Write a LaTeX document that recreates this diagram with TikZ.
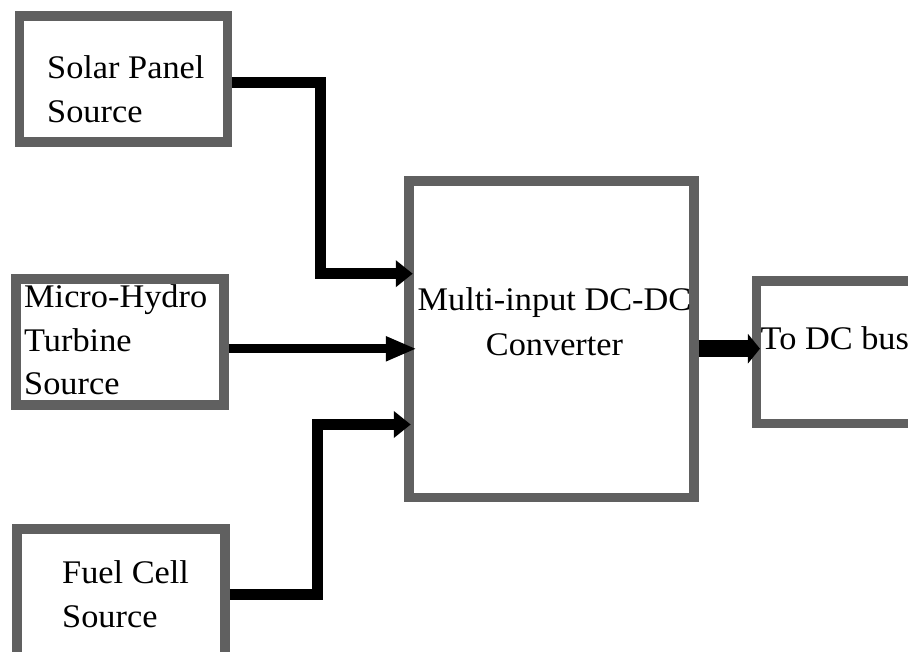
\documentclass[tikz,border=0pt]{standalone}
\usepackage{fontspec}
\setmainfont[FakeStretch=1.04]{Liberation Serif}
\usepackage{tikz}
\usetikzlibrary{arrows.meta}
\definecolor{boxgray}{HTML}{606060}

\begin{document}
\begin{tikzpicture}[x=1pt,y=-1pt,
  blk/.style={draw=boxgray,line width=9.5pt,rectangle,inner sep=0pt},
  lbl/.style={inner sep=0pt,align=left,font=\fontsize{33}{43.3}\selectfont},
  feed/.style={line width=11pt,-{Triangle[length=17pt,width=26pt]}},
  thinfeed/.style={line width=9pt,-{Triangle[length=31pt,width=23pt]}},
  busfeed/.style={line width=17pt,-{Triangle[length=12pt,width=29pt]}}]
\useasboundingbox (0,0) rectangle (908,652);

% ---- the three sources -------------------------------------------------
% the fuel cell box runs on past the bottom of the page
\node[blk,minimum width=208pt,minimum height=126pt] (solar) at (123.4,79) {};
\node[blk,minimum width=208pt,minimum height=126pt] (hydro) at (119.9,342.2) {};
\node[blk,minimum width=208pt,minimum height=134pt] (fuel) at (121,596) {};
\node[lbl,anchor=north west] (solartxt) at (47,55.8) {Solar Panel\\Source};
\node[lbl,anchor=north west] (hydrotxt) at (24,284.8) {Micro-Hydro\\Turbine\\Source};
\node[lbl,anchor=north west] (fueltxt) at (62,560.8) {Fuel Cell\\Source};

% ---- converter and bus -------------------------------------------------
% the bus box runs on past the right edge of the page
\node[blk,minimum width=285pt,minimum height=316.5pt] (conv) at (551.3,339.3) {};
\node[lbl,align=center,anchor=north,font=\fontsize{33}{45}\selectfont]
  (convtxt) at (554.5,287.5) {Multi-input DC-DC\\Converter};
\node[blk,minimum width=200pt,minimum height=142.3pt] (bus) at (856.7,352.2) {};
\node[lbl,anchor=base west] (bustxt) at (760.5,349.3) {To DC bus};

% ---- feeds ---------------------------------------------------------------
\draw[feed] ([yshift=-3.3pt]solar.east) -- ++(88.3,0)
  |- ([xshift=8.7pt,yshift=65.6pt]conv.west);
\draw[thinfeed] ([yshift=-6.6pt]hydro.east)
  -- ([xshift=12.7pt,yshift=-9.5pt]conv.west);
\draw[feed] ([yshift=2pt]fuel.east) -- ++(88,0)
  |- ([xshift=6.7pt,yshift=-85.2pt]conv.west);
\draw[busfeed] ([yshift=-9.4pt]conv.east) -- ([xshift=8pt,yshift=3.5pt]bus.west);
\end{tikzpicture}
\end{document}
